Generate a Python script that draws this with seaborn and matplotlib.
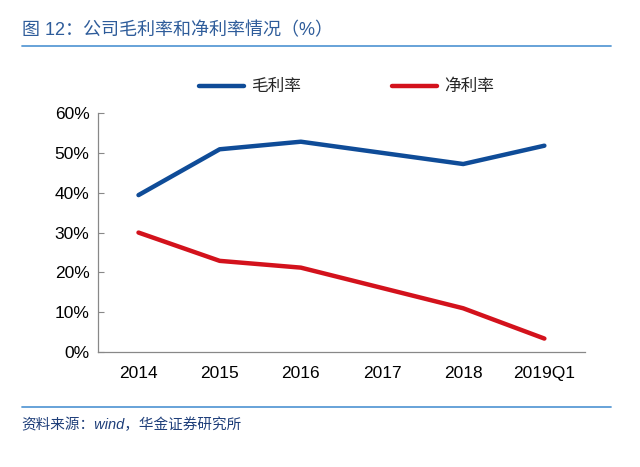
import pandas as pd
import matplotlib
matplotlib.use("Agg")
import matplotlib.pyplot as plt
import seaborn as sns
from matplotlib.ticker import FixedLocator, PercentFormatter

# 数据
years = ["2014", "2015", "2016", "2017", "2018", "2019Q1"]
gross_margin = [39.4, 50.9, 52.8, 50.0, 47.2, 51.8]
net_margin = [30.0, 22.9, 21.2, 16.1, 11.0, 3.4]

df = pd.DataFrame({
    "year": years * 2,
    "value": gross_margin + net_margin,
    "series": ["毛利率"] * len(years) + ["净利率"] * len(years),
})

sns.set_style("white")
plt.rcParams["font.family"] = ["Liberation Sans", "Noto Sans CJK SC", "DejaVu Sans"]

fig = plt.figure(figsize=(6.4, 4.67), dpi=100)
ax = fig.add_axes([0.153, 0.246, 0.761, 0.512])

sns.lineplot(
    data=df, x="year", y="value", hue="series",
    palette={"毛利率": "#0F4C98", "净利率": "#D3121C"},
    linewidth=3.2, sort=False, ax=ax,
)

ax.set_xlim(-0.5, len(years) - 0.5)
ax.set_ylim(0, 60)
ax.set_yticks(range(0, 61, 10))
ax.yaxis.set_major_formatter(PercentFormatter(decimals=0))
ax.set_xlabel("")
ax.set_ylabel("")

# 刻度线在类别之间
ax.xaxis.set_minor_locator(FixedLocator([i - 0.5 for i in range(len(years) + 1)]))
ax.tick_params(axis="x", which="major", length=0, pad=10, labelsize=12.5)
ax.tick_params(axis="x", which="minor", direction="in", length=4, color="#888888", width=0.8)
ax.tick_params(axis="y", which="major", direction="in", length=4, color="#888888", width=0.8,
               left=True, labelsize=12.5, pad=6)
for lbl in ax.get_yticklabels() + ax.get_xticklabels():
    lbl.set_color("black")

for s in ["top", "right"]:
    ax.spines[s].set_visible(False)
for s in ["left", "bottom"]:
    ax.spines[s].set_color("#888888")
    ax.spines[s].set_linewidth(0.9)

leg = ax.legend(
    loc="lower center", bbox_to_anchor=(0.51, 1.015), ncol=2, frameon=False,
    fontsize=12, handlelength=2.7, columnspacing=5.5, handletextpad=0.4,
)
for line in leg.get_lines():
    line.set_linewidth(3.2)

# 标题与来源
fig.text(0.034, 0.935, "图 12：公司毛利率和净利率情况（%）", fontsize=13,
         color="#2E5C9A", va="center", ha="left",
         family=["Liberation Sans", "Noto Sans CJK SC", "DejaVu Sans"])
fig.add_artist(plt.Line2D([0.034, 0.955], [0.902, 0.902], color="#5B9BD5", linewidth=1.3))
fig.add_artist(plt.Line2D([0.034, 0.955], [0.128, 0.128], color="#5B9BD5", linewidth=1.3))
fig.text(0.034, 0.09, "资料来源：wind，华金证券研究所", fontsize=10.5,
         color="#1F3F7A", va="center", ha="left", style="italic",
         family=["Liberation Sans", "Noto Sans CJK SC", "DejaVu Sans"])

fig.savefig("out.png", dpi=100)
